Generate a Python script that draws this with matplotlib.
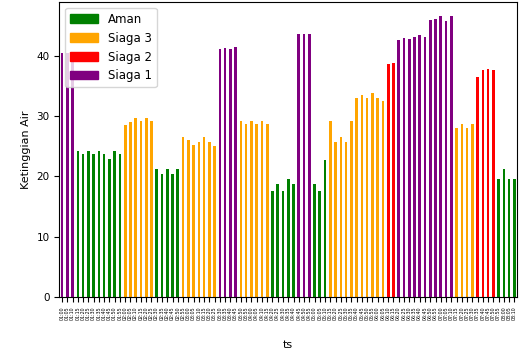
import matplotlib
matplotlib.use("Agg")
import matplotlib.pyplot as plt
from matplotlib.patches import Patch
import numpy as np

# Ketinggian air per pembacaan
ketinggian = [
    40.5, 40.5, 40.5,
    24.3, 23.7, 24.3, 23.7, 24.3, 23.7, 22.9, 24.3, 23.7,
    28.6, 29.1, 29.7, 29.2, 29.7, 29.2,
    21.2, 20.4, 21.2, 20.4, 21.2,
    26.6, 26.0, 25.3, 25.8, 26.6, 25.8, 25.1,
    41.1, 41.3, 41.1, 41.5,
    29.2, 28.7, 29.2, 28.7, 29.2, 28.7,
    17.6, 18.7, 17.6, 19.6, 18.7,
    43.7, 43.7, 43.7,
    18.7, 17.6, 22.8,
    29.2, 25.8, 26.6, 25.8, 29.2, 33.1, 33.5, 33.1, 33.8, 33.1, 32.6,
    38.6, 38.9,
    42.7, 43.0, 42.8, 43.2, 43.4, 43.2, 45.9, 46.2, 46.6, 45.8, 46.6,
    28.1, 28.7, 28.1, 28.7,
    36.5, 37.6, 37.9, 37.6,
    19.5, 21.2, 19.5, 19.5,
]

# status tiap bar
status = (["Siaga 1"] * 3 + ["Aman"] * 9 + ["Siaga 3"] * 6 + ["Aman"] * 5
          + ["Siaga 3"] * 7 + ["Siaga 1"] * 4 + ["Siaga 3"] * 6 + ["Aman"] * 5
          + ["Siaga 1"] * 3 + ["Aman"] * 3 + ["Siaga 3"] * 11 + ["Siaga 2"] * 2
          + ["Siaga 1"] * 11 + ["Siaga 3"] * 4 + ["Siaga 2"] * 4 + ["Aman"] * 4)

ts = ("01:00 01:05 01:10 01:15 01:20 01:25 01:30 01:35 01:40 01:45 01:50 01:55 "
      "02:00 02:05 02:10 02:15 02:20 02:25 02:30 02:35 02:40 02:45 02:50 02:55 "
      "03:00 03:05 03:10 03:15 03:20 03:25 03:30 03:35 03:40 03:45 03:50 03:55 "
      "04:00 04:05 04:10 04:15 04:20 04:25 04:30 04:35 04:40 04:45 04:50 04:55 "
      "05:00 05:05 05:10 05:15 05:20 05:25 05:30 05:35 05:40 05:45 05:50 05:55 "
      "06:00 06:05 06:10 06:15 06:20 06:25 06:30 06:35 06:40 06:45 06:50 06:55 "
      "07:00 07:05 07:10 07:15 07:20 07:25 07:30 07:35 07:40 07:45 07:50 07:55 "
      "08:00 08:05 08:10").split()

label_status = ["Aman", "Siaga 3", "Siaga 2", "Siaga 1"]
warna = {"Aman": "green", "Siaga 3": "orange", "Siaga 2": "red", "Siaga 1": "purple"}

plt.rcParams["font.size"] = 7.5

fig = plt.figure(figsize=(5.26, 3.54), dpi=100)
ax = fig.add_axes([0.113, 0.161, 0.870, 0.833])

x = np.arange(len(ketinggian))
ax.bar(x, ketinggian, width=0.5, color=[warna[s] for s in status])
ax.set_xlim(-0.5, len(ketinggian) - 0.5)

# label waktu sangat rapat, jadi huruf dibuat kecil
ax.set_xticks(x)
ax.set_xticklabels(ts, rotation=90, fontsize=3.4)
ax.set_xlabel("ts", fontsize=8, labelpad=14)
ax.set_ylabel("Ketinggian Air", fontsize=8)

handles = [Patch(color=warna[s], label=s) for s in label_status]
ax.legend(handles=handles, loc="upper left", fontsize=8.5, handlelength=2.4)

fig.savefig("out.png", dpi=100)
